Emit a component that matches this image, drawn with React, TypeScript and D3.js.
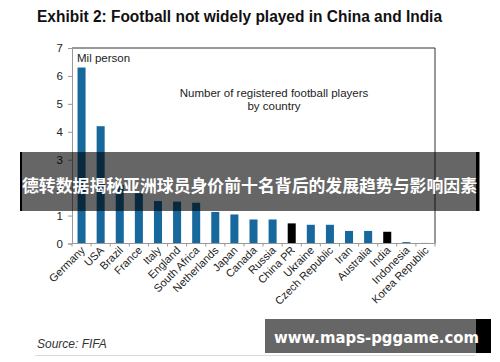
import * as d3 from "d3";
import { useRef, useEffect } from "react";

const countries = [
  "Germany", "USA", "Brazil", "France", "Italy", "England", "South Africa",
  "Netherlands", "Japan", "Canada", "Russia", "China PR", "Ukraine",
  "Czech Republic", "Iran", "Australia", "India", "Indonesia", "Korea Republic",
];
// registered players, millions
const players = [
  6.3, 4.2, 2.1, 1.8, 1.52, 1.5, 1.46, 1.13, 1.04, 0.86, 0.86, 0.72, 0.67,
  0.67, 0.45, 0.45, 0.42, 0.05, 0.02,
];
const highlighted = ["China PR", "India"];
const yTicks = [0, 1, 2, 3, 4, 5, 6, 7];

const W = 500;
const H = 362;
const blue = "#17689c";

function draw(svgEl: SVGSVGElement | null) {
  if (!svgEl) return;
  const svg = d3.select(svgEl);
  svg.selectAll("*").remove();

  const x = d3.scaleBand<string>().domain(countries).range([72, 435]).paddingInner(0.58).paddingOuter(0.29);
  const y = d3.scaleLinear().domain([0, 7]).range([243.5, 48]);

  // title
  svg.append("text")
    .attr("x", 37).attr("y", 21.5)
    .attr("font-family", "Liberation Sans, Arial, sans-serif")
    .attr("font-weight", "bold").attr("font-size", 16)
    .attr("textLength", 405).attr("lengthAdjust", "spacingAndGlyphs")
    .attr("fill", "#111")
    .text("Exhibit 2: Football not widely played in China and India");

  // plot frame (top + right)
  svg.append("path")
    .attr("d", `M72,${y(7)}H435V${y(0)}`)
    .attr("fill", "none").attr("stroke", "#333").attr("stroke-width", 1);

  // bars
  svg.append("g")
    .selectAll("rect")
    .data(countries)
    .join("rect")
    .attr("x", (d) => x(d)!)
    .attr("width", x.bandwidth())
    .attr("y", (d, i) => y(players[i]))
    .attr("height", (d, i) => y(0) - y(players[i]))
    .attr("fill", (d) => (highlighted.includes(d) ? "#000" : blue));

  // y axis
  const yAxis = svg.append("g")
    .attr("transform", "translate(72,0)")
    .call(d3.axisLeft(y).tickValues(yTicks).tickFormat(d3.format("d")).tickSize(4).tickPadding(5));
  yAxis.select(".domain").attr("stroke", "#999");
  yAxis.selectAll(".tick line").attr("stroke", "#999");
  yAxis.selectAll("text")
    .attr("font-family", "Liberation Sans, Arial, sans-serif")
    .attr("font-size", 11.5).attr("fill", "#222");

  // x axis with ticks between categories
  const step = x.step();
  const edges = countries.map((c) => x(c)! - (step - x.bandwidth()) / 2).concat([435]);
  const xAxis = svg.append("g");
  xAxis.append("line")
    .attr("x1", 72).attr("x2", 435).attr("y1", y(0)).attr("y2", y(0))
    .attr("stroke", "#999");
  xAxis.selectAll("line.tick")
    .data(edges)
    .join("line")
    .attr("class", "tick")
    .attr("x1", (d) => d).attr("x2", (d) => d)
    .attr("y1", y(0)).attr("y2", y(0) + 3)
    .attr("stroke", "#999");
  xAxis.selectAll("text")
    .data(countries)
    .join("text")
    .attr("transform", (d) => `translate(${x(d)! + x.bandwidth() / 2 + 4},251) rotate(-45)`)
    .attr("text-anchor", "end")
    .attr("font-family", "Liberation Sans, Arial, sans-serif")
    .attr("font-size", 11).attr("fill", "#222")
    .text((d) => d);

  // annotations
  const note = svg.append("g")
    .attr("font-family", "Liberation Sans, Arial, sans-serif")
    .attr("font-size", 11.5).attr("fill", "#222");
  note.append("text").attr("x", 77).attr("y", 62).text("Mil  person");
  note.append("text").attr("x", 274).attr("y", 96.5).attr("text-anchor", "middle")
    .text("Number of registered football players");
  note.append("text").attr("x", 274).attr("y", 110).attr("text-anchor", "middle")
    .text("by country");

  // source
  svg.append("text")
    .attr("x", 37).attr("y", 348)
    .attr("font-family", "Liberation Sans, Arial, sans-serif")
    .attr("font-style", "italic").attr("font-size", 12).attr("fill", "#333")
    .text("Source: FIFA");
  svg.append("line")
    .attr("x1", 35).attr("x2", 475).attr("y1", 355.5).attr("y2", 355.5)
    .attr("stroke", "#d5dde3");

  // overlay banner
  svg.append("rect").attr("x", 20).attr("y", 152).attr("width", 2).attr("height", 59).attr("fill", "#000");
  svg.append("rect").attr("x", 22).attr("y", 152).attr("width", 454).attr("height", 59)
    .attr("fill", "#000").attr("fill-opacity", 0.6);
  svg.append("rect").attr("x", 476).attr("y", 152).attr("width", 3.5).attr("height", 59).attr("fill", "#000");
  svg.append("text")
    .attr("x", 22).attr("y", 192)
    .attr("font-family", "Noto Sans CJK SC, sans-serif")
    .attr("font-weight", "bold").attr("font-size", 17)
    .attr("textLength", 455).attr("lengthAdjust", "spacingAndGlyphs")
    .attr("fill", "#fff")
    .text("德转数据揭秘亚洲球员身价前十名背后的发展趋势与影响因素");

  // url banner
  svg.append("rect").attr("x", 265).attr("y", 319).attr("width", 211).attr("height", 34).attr("fill", "#666");
  svg.append("rect").attr("x", 476).attr("y", 319).attr("width", 15).attr("height", 34).attr("fill", "#000");
  svg.append("text")
    .attr("x", 274).attr("y", 342.5)
    .attr("font-family", "DejaVu Sans, Verdana, sans-serif")
    .attr("font-weight", "bold").attr("font-size", 16.5)
    .attr("textLength", 205).attr("lengthAdjust", "spacingAndGlyphs")
    .attr("fill", "#fff")
    .text("www.maps-pggame.com");
}

const App = () => {
  const ref = useRef<SVGSVGElement | null>(null);

  useEffect(() => {
    draw(ref.current);
  }, []);

  return (
    <svg
      ref={ref}
      width={W}
      height={H}
      style={{ position: "absolute", left: 0, top: 0, background: "#fff" }}
    ></svg>
  );
};

export default App;
